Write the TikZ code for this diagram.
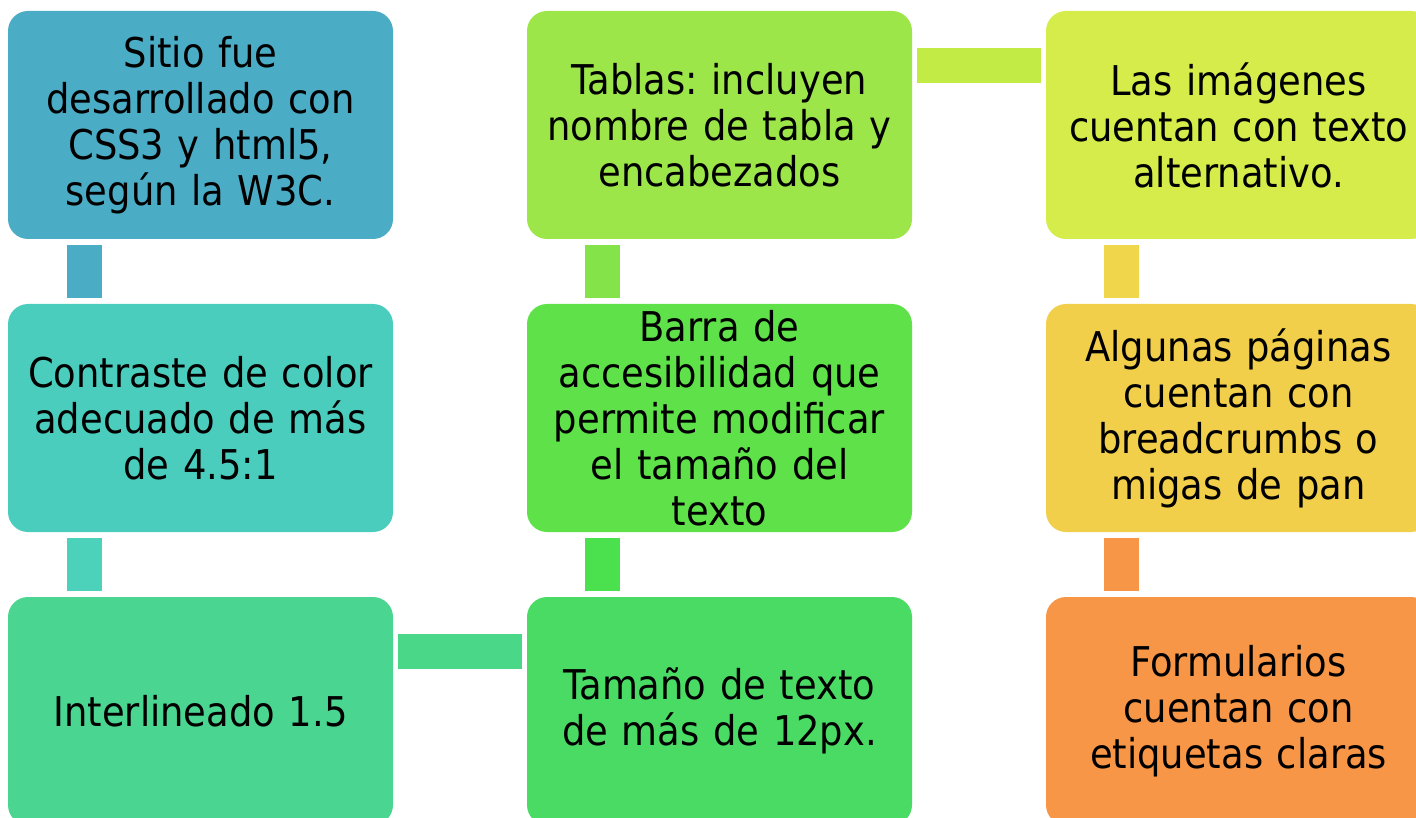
\documentclass[tikz,border=0pt]{standalone}
\usepackage{fontspec}
\setmainfont{DejaVu Sans Condensed}
\frenchspacing
\definecolor{cA}{HTML}{4BACC6}
\definecolor{cB}{HTML}{4BCDBE}
\definecolor{cBC}{HTML}{4CD1BA}
\definecolor{cC}{HTML}{4AD590}
\definecolor{cCD}{HTML}{4AD888}
\definecolor{cD}{HTML}{4ADB64}
\definecolor{cDE}{HTML}{4AE04E}
\definecolor{cE}{HTML}{5FE14A}
\definecolor{cEF}{HTML}{85E34A}
\definecolor{cF}{HTML}{9CE64A}
\definecolor{cFG}{HTML}{C2EB46}
\definecolor{cG}{HTML}{D5EC4A}
\definecolor{cGH}{HTML}{F0D64A}
\definecolor{cH}{HTML}{F2CF4A}
\definecolor{cHI}{HTML}{F79646}
\definecolor{cI}{HTML}{F79646}
\tikzset{
  boxnode/.style={rectangle, rounded corners=20pt, minimum width=385pt, minimum height=228pt,
    inner sep=0pt, text width=384pt, align=center, text=black,
    font=\fontsize{41}{46}\selectfont\frenchspacing},
  vbar/.style={line width=35pt, shorten <=6pt, shorten >=6pt},
  hbar/.style={line width=35pt, shorten <=5pt, shorten >=5pt},
}
\begin{document}
\begin{tikzpicture}[x=1pt,y=-1pt]
\useasboundingbox (0,0) rectangle (1416,818);
\clip (0,0) rectangle (1416,818);
\node[boxnode, fill=cA] (b1) at (200.5,125) {Sitio fue\\desarrollado con\\CSS3 y html5,\\según la W3C.};
\node[boxnode, fill=cB] (b2) at (200.5,418) {Contraste de color\\adecuado de más\\de 4.5:1};
\node[boxnode, fill=cC] (b3) at (200.5,711) {Interlineado 1.5};
\node[boxnode, fill=cD] (b4) at (719.5,711) {Tamaño de texto\\de más de 12px.};
\node[boxnode, fill=cE] (b5) at (719.5,418) {Barra de\\accesibilidad que\\permite modificar\\el tamaño del\\texto};
\node[boxnode, fill=cF] (b6) at (719.5,125) {Tablas: incluyen\\nombre de tabla y\\encabezados};
\node[boxnode, fill=cG] (b7) at (1238.5,125) {Las imágenes\\cuentan con texto\\alternativo.};
\node[boxnode, fill=cH] (b8) at (1238.5,418) {Algunas páginas\\cuentan con\\breadcrumbs o\\migas de pan};
\node[boxnode, fill=cI] (b9) at (1238.5,711) {Formularios\\cuentan con\\etiquetas claras};
\draw[vbar, cA] ([xshift=-116pt]b1.south) -- ([xshift=-116pt]b2.north);
\draw[vbar, cBC] ([xshift=-116pt]b2.south) -- ([xshift=-116pt]b3.north);
\draw[hbar, cCD] ([yshift=60pt]b3.east) -- ([yshift=60pt]b4.west);
\draw[vbar, cDE] ([xshift=-117pt]b4.north) -- ([xshift=-117pt]b5.south);
\draw[vbar, cEF] ([xshift=-117pt]b5.north) -- ([xshift=-117pt]b6.south);
\draw[hbar, cFG] ([yshift=59.5pt]b6.east) -- ([yshift=59.5pt]b7.west);
\draw[vbar, cGH] ([xshift=-117pt]b7.south) -- ([xshift=-117pt]b8.north);
\draw[vbar, cHI] ([xshift=-117pt]b8.south) -- ([xshift=-117pt]b9.north);
\end{tikzpicture}
\end{document}
